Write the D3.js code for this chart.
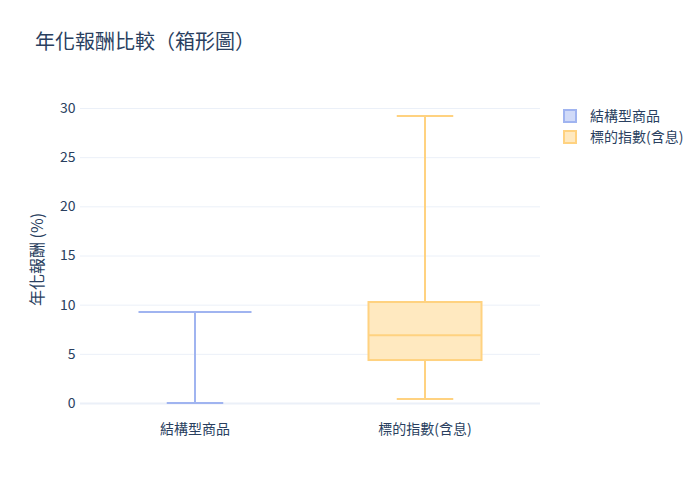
<!DOCTYPE html>
<html><head><meta charset="utf-8">
<script src="https://cdn.jsdelivr.net/npm/d3@7"></script>
<style>body{margin:0;background:#fff}svg{font-family:"Noto Sans CJK TC","Noto Sans",sans-serif}</style>
</head><body>
<svg id="c" width="700" height="500"></svg>
<script>
const categories = ["結構型商品", "標的指數(含息)"];
const lowerWhisker = [0.0, 0.41];
const q1 = [9.25, 4.37];
const median = [9.25, 6.88];
const q3 = [9.25, 10.27];
const upperWhisker = [9.25, 29.19];
const strokeColors = ["rgb(160,180,240)", "rgb(255,210,128)"];
const fillColors = ["rgb(208,218,248)", "rgb(255,233,192)"];
const yTicks = [0, 5, 10, 15, 20, 25, 30];

const svg = d3.select("#c");
const FF = '"Noto Sans CJK TC","Noto Sans",sans-serif';
const m = {l: 80, r: 160};
const W = 700;
const x = d3.scaleBand().domain(categories).range([m.l, W - m.r]).paddingInner(0.5).paddingOuter(0.25);
const y = d3.scaleLinear().domain([0, 30]).range([403, 108]);

// grid
const yAxis = svg.append("g").attr("transform", `translate(${m.l},0)`)
  .call(d3.axisLeft(y).tickValues(yTicks).tickSize(-(W - m.r - m.l)).tickPadding(3))
  .attr("font-family", FF);
yAxis.select(".domain").remove();
yAxis.selectAll(".tick line").attr("stroke", "#ebf0f8").attr("stroke-width", d => d === 0 ? 2 : 1);
yAxis.selectAll(".tick text").attr("fill", "#2a3f5f").attr("font-size", 14).attr("dx", "-0.1em");

const xAxis = svg.append("g").attr("transform", `translate(0,${y(0) + 18})`)
  .call(d3.axisBottom(x).tickSize(0)).attr("font-family", FF);
xAxis.select(".domain").remove();
xAxis.selectAll(".tick text").attr("fill", "#2a3f5f").attr("font-size", 14);

// boxes
const data = categories.map((c, i) => ({c, i, lo: lowerWhisker[i], q1: q1[i], med: median[i], q3: q3[i], hi: upperWhisker[i]}));
const g = svg.append("g");
data.forEach(d => {
  const cx = x(d.c) + x.bandwidth() / 2;
  const bw = x.bandwidth() - 2;
  const gg = g.append("g").attr("stroke", strokeColors[d.i]).attr("stroke-width", 2).attr("fill", "none");
  gg.append("line").attr("x1", cx).attr("x2", cx).attr("y1", y(d.lo)).attr("y2", y(d.q1));
  gg.append("line").attr("x1", cx).attr("x2", cx).attr("y1", y(d.q3)).attr("y2", y(d.hi));
  gg.append("line").attr("x1", cx - bw / 4).attr("x2", cx + bw / 4).attr("y1", y(d.lo)).attr("y2", y(d.lo));
  gg.append("line").attr("x1", cx - bw / 4).attr("x2", cx + bw / 4).attr("y1", y(d.hi)).attr("y2", y(d.hi));
  gg.append("rect").attr("x", cx - bw / 2).attr("width", bw).attr("y", y(d.q3)).attr("height", Math.max(0, y(d.q1) - y(d.q3)))
    .attr("fill", fillColors[d.i]);
  gg.append("line").attr("x1", cx - bw / 2).attr("x2", cx + bw / 2).attr("y1", y(d.med)).attr("y2", y(d.med));
});

// title
svg.append("text").attr("x", 35).attr("y", 49).attr("font-size", 20).attr("fill", "#2a3f5f").text("年化報酬比較（箱形圖）");
// y title
svg.append("text").attr("transform", `translate(43,${(y(0) + y(30)) / 2 + 4}) rotate(-90)`).attr("text-anchor", "middle")
  .attr("font-size", 16).attr("fill", "#2a3f5f").text("年化報酬 (%)");

// legend
const lg = svg.append("g").attr("transform", "translate(563,109)");
categories.forEach((c, i) => {
  const r = lg.append("g").attr("transform", `translate(0,${i * 21})`);
  r.append("rect").attr("x", 1).attr("y", 1).attr("width", 12).attr("height", 12)
    .attr("fill", fillColors[i]).attr("stroke", strokeColors[i]).attr("stroke-width", 2);
  r.append("text").attr("x", 27).attr("y", 12).attr("font-size", 14).attr("fill", "#2a3f5f").text(c);
});
</script>
</body></html>
